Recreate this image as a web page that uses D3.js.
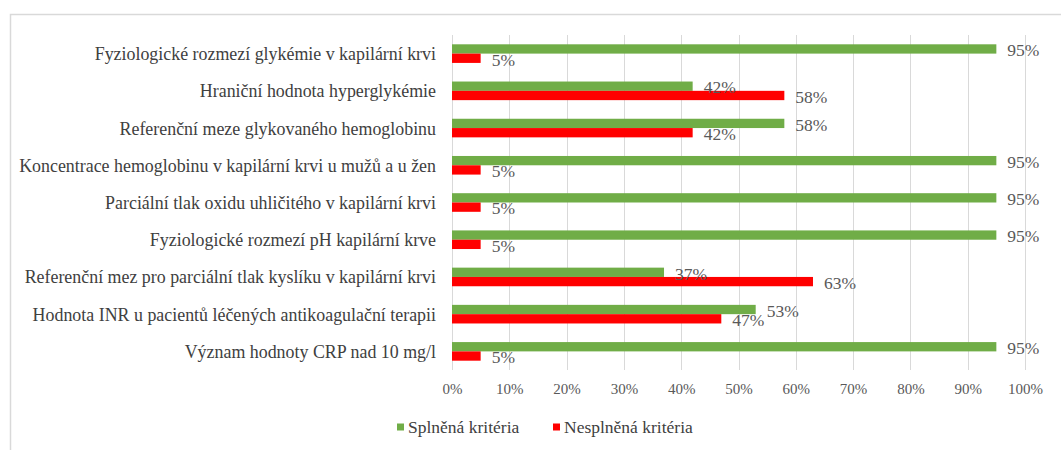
<!DOCTYPE html>
<html>
<head>
<meta charset="utf-8">
<script src="https://cdn.jsdelivr.net/npm/d3@7"></script>
<style>
  html, body { margin: 0; padding: 0; background: #fff; }
  svg { display: block; }
</style>
</head>
<body>
<svg id="chart" width="1061" height="450"></svg>
<script>
// Criteria assessed, top to bottom
const categories = [
  "Fyziologické rozmezí glykémie v kapilární krvi",
  "Hraniční hodnota hyperglykémie",
  "Referenční meze glykovaného hemoglobinu",
  "Koncentrace hemoglobinu v kapilární krvi u mužů a u žen",
  "Parciální tlak oxidu uhličitého v kapilární krvi",
  "Fyziologické rozmezí pH kapilární krve",
  "Referenční mez pro parciální tlak kyslíku v kapilární krvi",
  "Hodnota INR u pacientů léčených antikoagulační terapii",
  "Význam hodnoty CRP nad 10 mg/l"
];
// Share of answers meeting the criteria (%)
const splnena = [95, 42, 58, 95, 95, 95, 37, 53, 95];
// Share of answers not meeting the criteria (%)
const nesplnena = [5, 58, 42, 5, 5, 5, 63, 47, 5];
const xTicks = [0, 10, 20, 30, 40, 50, 60, 70, 80, 90, 100];
const seriesNames = ["Splněná kritéria", "Nesplněná kritéria"];
const seriesColors = ["#70AD47", "#FF0000"];

const FONT = "Liberation Serif";
const svg = d3.select("#chart").attr("font-family", FONT);

// outer chart frame
svg.append("rect")
  .attr("x", 10.5).attr("y", 14.5)
  .attr("width", 1080).attr("height", 470)
  .attr("fill", "none").attr("stroke", "#d9d9d9").attr("stroke-width", 1.5);

const x = d3.scaleLinear().domain([0, 100]).range([452, 1025]);
const y = d3.scaleBand().domain(categories).range([35, 370])
  .paddingInner(0.5).paddingOuter(0.25);
const sub = d3.scaleBand().domain(seriesNames).range([0, y.bandwidth()]);

// vertical gridlines
svg.append("g").selectAll("line").data(xTicks).join("line")
  .attr("x1", d => Math.round(x(d)) + 0.5).attr("x2", d => Math.round(x(d)) + 0.5)
  .attr("y1", 35).attr("y2", 370)
  .attr("stroke", "#d9d9d9").attr("stroke-width", 1);

// x axis tick labels
const xAxis = d3.axisBottom(x).tickValues(xTicks).tickFormat(d => d + "%").tickSize(0).tickPadding(0);
const gx = svg.append("g").attr("transform", "translate(0,383)").call(xAxis)
  .attr("font-family", FONT).attr("font-size", 15);
gx.select(".domain").remove();
gx.selectAll("text")
  .attr("dy", "0.75em")
  .attr("fill", "#595959")
  .attr("font-family", FONT);

// category labels
const yAxis = d3.axisLeft(y).tickSize(0).tickPadding(0);
const gy = svg.append("g").attr("transform", "translate(436,0)").call(yAxis)
  .attr("font-family", FONT).attr("font-size", 17.9);
gy.select(".domain").remove();
gy.selectAll("text")
  .attr("fill", "#404040")
  .attr("dy", "0.36em")
  .attr("font-family", FONT);

// bars and value labels
const rows = categories.map((c, i) => ({ c, vals: [splnena[i], nesplnena[i]] }));
const groups = svg.append("g").selectAll("g").data(rows).join("g")
  .attr("transform", d => `translate(0,${y(d.c)})`);

groups.selectAll("rect").data(d => d.vals.map((v, k) => ({ v, k }))).join("rect")
  .attr("x", x(0))
  .attr("y", d => sub(seriesNames[d.k]))
  .attr("width", d => x(d.v) - x(0))
  .attr("height", sub.bandwidth())
  .attr("fill", d => seriesColors[d.k]);

groups.selectAll("text").data(d => d.vals.map((v, k) => ({ v, k }))).join("text")
  .attr("x", d => x(d.v) + 11)
  .attr("y", d => sub(seriesNames[d.k]) + sub.bandwidth() / 2 + 1)
  .attr("dy", "0.36em")
  .attr("fill", "#595959")
  .attr("font-family", FONT)
  .attr("font-size", 17.5)
  .text(d => d.v + "%");

// legend
const legend = svg.append("g").attr("transform", "translate(0,427)");
const legendX = [397, 553];
seriesNames.forEach((name, k) => {
  legend.append("rect")
    .attr("x", legendX[k]).attr("y", -3.5)
    .attr("width", 7).attr("height", 7)
    .attr("fill", seriesColors[k]);
  legend.append("text")
    .attr("x", legendX[k] + 11).attr("y", 0)
    .attr("dy", "0.36em")
    .attr("fill", "#404040")
    .attr("font-family", FONT)
    .attr("font-size", 17.5)
    .text(name);
});
</script>
</body>
</html>
